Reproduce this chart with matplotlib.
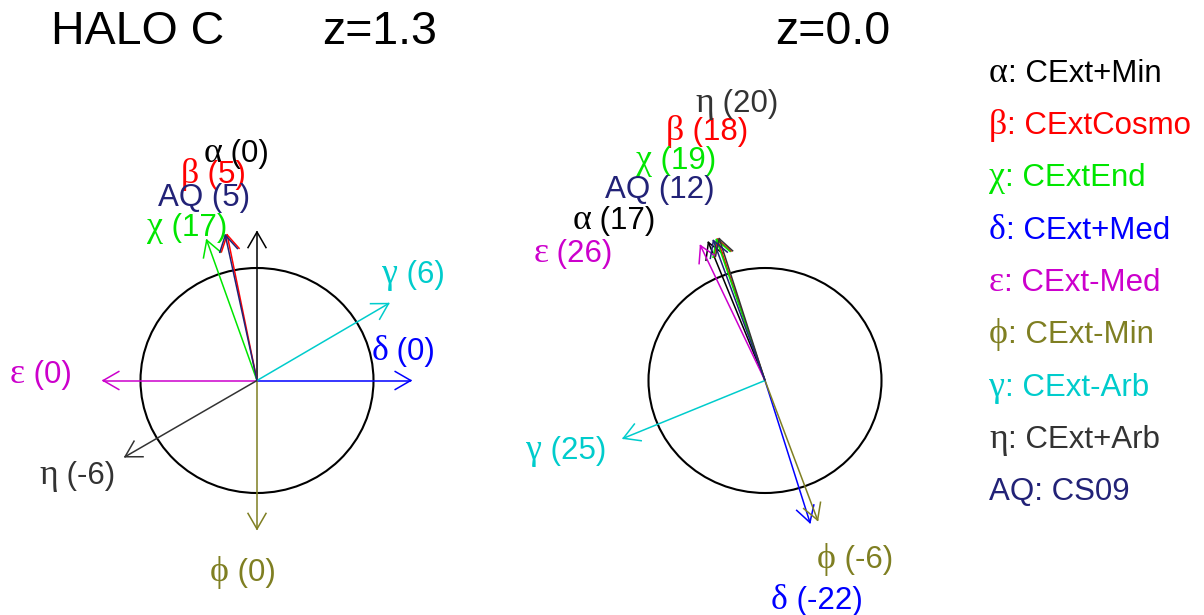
import numpy as np
import matplotlib

matplotlib.use("Agg")
import matplotlib.pyplot as plt
from matplotlib.patches import Ellipse

# Models shown in both panels (same order as the legend)
greek = ["α", "β", "χ", "δ", "ε", "ϕ", "γ", "η", "AQ"]
names = ["CExt+Min", "CExtCosmo", "CExtEnd", "CExt+Med", "CExt-Med",
         "CExt-Min", "CExt-Arb", "CExt+Arb", "CS09"]
colors = ["#000000", "#FF0000", "#00E600", "#0000FF", "#CC00CC",
          "#7F7F22", "#00CCCC", "#333333", "#222277"]

# direction of each vector in the projected plane (degrees) and the value printed
z13_angle = [90.0, 101.2, 109.1, 0.0, 180.0, 270.0, 31.2, 210.9, 101.9]
z13_value = [0, 5, 17, 0, 0, 0, 6, -6, 5]
z00_angle = [111.6, 108.0, 108.4, 287.0, 114.8, 290.0, 202.9, 107.3, 109.6]
z00_value = [17, 18, 19, -22, 26, -6, 25, 20, 12]

# label placement (pixel x centre, pixel baseline) for each panel
z13_label_pos = [(236, 162), (213, 183), (187, 236), (403, 360), (41, 383),
                 (243, 581), (413, 283), (77, 484), (204, 206)]
z00_label_pos = [(614, 229), (707, 140), (676, 169), (817, 609), (573, 262),
                 (855, 568), (566, 459), (737, 112), (660, 198)]

W, H = 1204, 615
SX, SY = 116.5, 112.5   # pixels per unit (the circle is drawn slightly squashed)
ARROW_LEN = 1.32
HEAD_LEN = 18           # px
HEAD_ANG = 30           # deg
FS = 22.5

fig = plt.figure(figsize=(W / 100, H / 100), dpi=100)
renderer = fig.canvas.get_renderer()


def px(x, y):
    return x / W, 1 - y / H


def two_part_text(x, y, first, rest, color, size, center=True):
    """Greek letter in a serif face, the rest in sans, on one baseline."""
    if first == "AQ":
        first, rest = "", first + rest
    t1 = fig.text(*px(x, y), first, family="Liberation Serif",
                  fontsize=size * 1.15, color=color, va="baseline", ha="left")
    t2 = fig.text(*px(x, y), rest, family="Liberation Sans", fontsize=size,
                  color=color, va="baseline", ha="left")
    w1 = t1.get_window_extent(renderer).width if first else 0
    w2 = t2.get_window_extent(renderer).width
    left = x - (w1 + w2) / 2 if center else x
    t1.set_position(px(left, y))
    t2.set_position(px(left + w1, y))


def panel(cx, cy, x0, x1, angles, values, label_pos):
    ax = fig.add_axes([x0 / W, 0, (x1 - x0) / W, 1])
    ax.set_xlim((x0 - cx) / SX, (x1 - cx) / SX)
    ax.set_ylim((cy - H) / SY, cy / SY)
    ax.axis("off")
    ax.add_patch(Ellipse((0, 0), 2, 2, fill=False, lw=1.5, ec="black"))
    for ang, col in zip(angles, colors):
        a = np.deg2rad(ang)
        tip = np.array([ARROW_LEN * np.cos(a), ARROW_LEN * np.sin(a)])
        ax.plot([0, tip[0]], [0, tip[1]], color=col, lw=1.1,
                solid_capstyle="butt")
        # open arrow head, built in pixel space then mapped back
        tip_d = ax.transData.transform(tip)
        base_d = ax.transData.transform([0, 0])
        d = (tip_d - base_d) / np.linalg.norm(tip_d - base_d)
        for s in (1, -1):
            r = np.deg2rad(s * HEAD_ANG)
            rot = np.array([[np.cos(r), -np.sin(r)], [np.sin(r), np.cos(r)]])
            p = tip_d - HEAD_LEN * rot @ d
            p = ax.transData.inverted().transform(p)
            ax.plot([tip[0], p[0]], [tip[1], p[1]], color=col, lw=1.1)
    for g, v, col, (lx, ly) in zip(greek, values, colors, label_pos):
        two_part_text(lx, ly, g, f" ({v})", col, FS)


panel(257, 380.5, 0, 500, z13_angle, z13_value, z13_label_pos)
panel(765, 380.5, 505, 960, z00_angle, z00_value, z00_label_pos)

# titles
for txt, x in [("HALO C", 138), ("z=1.3", 380), ("z=0.0", 833)]:
    fig.text(*px(x, 44), txt, family="Liberation Sans", fontsize=33.5,
             ha="center", va="baseline")

# legend
for i, (g, n, col) in enumerate(zip(greek, names, colors)):
    two_part_text(989, 82 + 52.25 * i, g, ": " + n, col, FS, center=False)

fig.savefig("out.png", dpi=100)
